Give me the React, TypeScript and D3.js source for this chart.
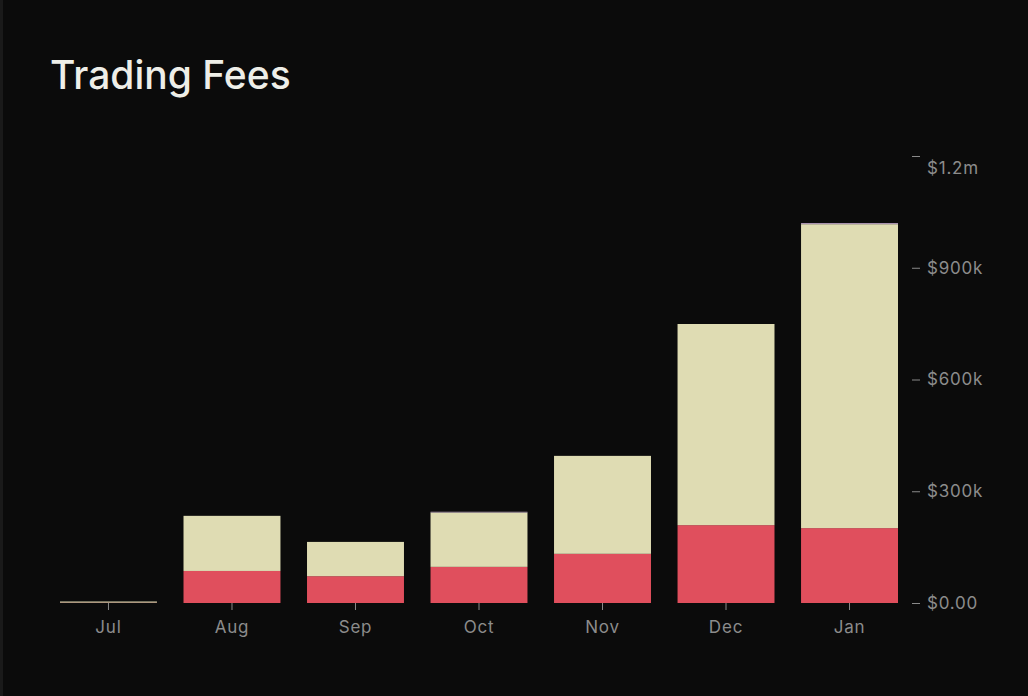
import React, { useRef, useEffect } from "react";
import * as d3 from "d3";

const months = ["Jul", "Aug", "Sep", "Oct", "Nov", "Dec", "Jan"];
// values in $k
const redFees = [1, 86, 72, 97, 132, 209, 201];
const yellowFees = [3, 148, 92, 146, 263, 540, 816];
const purpleFees = [0, 0, 0, 2, 0, 0, 3];
const yTicks = [0, 300, 600, 900, 1200];
const yTickLabels = ["$0.00", "$300k", "$600k", "$900k", "$1.2m"];

const seriesKeys = ["red", "yellow", "purple"] as const;
const colors: Record<string, string> = {
  red: "#e04f5d",
  yellow: "#dfdcb3",
  purple: "#b29ab8",
};

const labelFont = "Inter, 'Noto Sans', sans-serif";

const App: React.FC = () => {
  const svgRef = useRef<SVGSVGElement | null>(null);

  useEffect(() => {
    const width = 1028;
    const height = 696;
    const svg = d3.select(svgRef.current);
    svg.selectAll("*").remove();

    svg.append("rect").attr("width", width).attr("height", height).attr("fill", "#0b0b0b");
    svg.append("rect").attr("x", 0).attr("y", 0).attr("width", 3).attr("height", height).attr("fill", "#1a1a1a");

    svg.append("text")
      .attr("x", 50)
      .attr("y", 89)
      .attr("fill", "#eeeee8")
      .style("font-family", labelFont)
      .style("font-size", "39px")
      .style("font-weight", 500)
      .text("Trading Fees");

    const rows = months.map((m, i) => ({
      month: m,
      red: redFees[i],
      yellow: yellowFees[i],
      purple: purpleFees[i],
    }));

    const x = d3.scaleBand<string>()
      .domain(months)
      .range([60, 898])
      .paddingInner(0.215)
      .paddingOuter(0);

    const y = d3.scaleLinear().domain([0, 1200]).range([603, 156]);

    const stack = d3.stack<any>().keys(seriesKeys as unknown as string[]);
    const stacked = stack(rows);

    svg.append("g")
      .selectAll("g")
      .data(stacked)
      .join("g")
      .attr("fill", (d) => colors[d.key])
      .selectAll("rect")
      .data((d) => d)
      .join("rect")
      .attr("x", (d: any) => x(d.data.month)!)
      .attr("width", x.bandwidth())
      .attr("y", (d) => y(d[1]))
      .attr("height", (d) => Math.max(0, y(d[0]) - y(d[1])));

    // x axis
    const xg = svg.append("g").attr("transform", "translate(0,603)");
    xg.call(d3.axisBottom(x).tickSize(7).tickSizeOuter(0).tickPadding(11));
    xg.select(".domain").remove();
    xg.selectAll("line").attr("stroke", "#8a8a8a");
    xg.selectAll("text")
      .attr("fill", "#8c8c8c")
      .style("font-family", labelFont)
      .style("font-size", "17px")
      .style("letter-spacing", "0.8px");

    // y axis on the right
    const yg = svg.append("g").attr("transform", "translate(912,0)");
    yg.call(
      d3.axisRight(y)
        .tickValues(yTicks)
        .tickSize(8)
        .tickPadding(7)
        .tickFormat((d, i) => yTickLabels[i])
    );
    yg.select(".domain").remove();
    yg.selectAll("line").attr("stroke", "#8a8a8a");
    yg.selectAll("text")
      .attr("fill", "#8c8c8c")
      .style("font-family", labelFont)
      .style("font-size", "17px")
      .style("letter-spacing", "0.8px")
      .attr("dy", (d: any) => (d === 1200 ? "1.05em" : "0.32em"));
  }, []);

  return (
    <div style={{ position: "fixed", left: 0, top: 0, width: 1028, height: 696 }}>
      <svg ref={svgRef} width={1028} height={696} style={{ display: "block" }} />
    </div>
  );
};

export default App;
